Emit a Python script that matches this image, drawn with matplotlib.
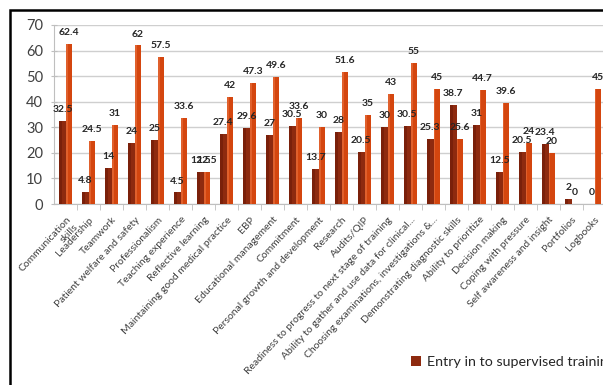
import matplotlib
matplotlib.use("Agg")
import matplotlib.pyplot as plt
from matplotlib.patches import Rectangle
import numpy as np

categories = [
    "Communication\nskills", "Leadership", "Teamwork", "Patient welfare and safety",
    "Professionalism", "Teaching experience", "Reflective learning",
    "Maintaining good medical practice", "EBP", "Educational management",
    "Commitment", "Personal growth and development", "Research", "Audits/QIP",
    "Readiness to progress to next stage of training",
    "Ability to gather and use data for clinical...",
    "Choosing examinations, investigations &...",
    "Demonstrating diagnostic skills", "Ability to prioritize", "Decision making",
    "Coping with pressure", "Self awareness and insight", "Portfolios", "Logbooks",
]
entry_values = [32.5, 4.8, 14, 24, 25, 4.5, 12.5, 27.4, 29.6, 27, 30.5, 13.7, 28,
                20.5, 30, 30.5, 25.3, 38.7, 31, 12.5, 20.5, 23.4, 2, 0]
second_values = [62.4, 24.5, 31, 62, 57.5, 33.6, 12.5, 42, 47.3, 49.6, 33.6, 30, 51.6,
                 35, 43, 55, 45, 25.6, 44.7, 39.6, 24, 20, 0, 45]
series_labels = ["Entry in to supervised training", "Second series"]
yticks = [0, 10, 20, 30, 40, 50, 60, 70]

plt.rcParams['font.family'] = ['Lato', 'DejaVu Sans']

W, H = 603, 385
fig = plt.figure(figsize=(W / 100, H / 100), dpi=100)
ax = fig.add_axes([54.2 / W, (H - 204) / H, (606 - 54.2) / W, (204 - 25) / H])

x = np.arange(len(categories))
bw = 0.28
dark = "#8E2A0F"
orange = "#D4460F"
b1 = ax.bar(x - bw / 2, entry_values, bw, color=dark, label=series_labels[0], zorder=3)
b2 = ax.bar(x + bw / 2, second_values, bw, color=orange, label=series_labels[1], zorder=3)
# subtle shading strips to mimic gradient
ax.bar(x - bw / 2 - bw * 0.3, entry_values, bw * 0.4, color="#7A200A", zorder=3.5)
ax.bar(x + bw / 2 - bw * 0.35, second_values, bw * 0.3, color="#E0602C", zorder=3.5)

for bars, vals in ((b1, entry_values), (b2, second_values)):
    for rect, v in zip(bars, vals):
        ax.annotate(f"{v:g}", (rect.get_x() + rect.get_width() / 2, v),
                    xytext=(0, 5), textcoords="offset points", ha="center", va="bottom",
                    fontsize=7.5, fontweight="bold", color="#262626", zorder=5)

ax.set_xlim(-0.5, len(categories) - 0.5)
ax.set_ylim(0, 70)
ax.set_yticks(yticks)
ax.set_yticklabels([str(t) for t in yticks], fontsize=10.5, color="#404040")
ax.yaxis.grid(True, color="#CFCFCF", lw=1, zorder=0)
ax.set_axisbelow(True)
ax.set_xticks(x)
ax.set_xticklabels(categories, rotation=47, ha="right", rotation_mode="anchor",
                   fontsize=7.5, color="#404040")
ax.set_xticks(np.arange(len(categories)) + 0.5, minor=True)
ax.tick_params(axis="x", which="major", length=0, pad=8)
ax.tick_params(axis="x", which="minor", length=4, color="#BFBFBF")
ax.tick_params(axis="y", length=4, color="#BFBFBF", direction="inout", pad=6)
for s in ("top", "right"):
    ax.spines[s].set_visible(False)
for s in ("left", "bottom"):
    ax.spines[s].set_color("#BFBFBF")

leg = ax.legend(handles=[b1], labels=[series_labels[0]], loc="upper left",
                bbox_to_anchor=(411 / W, 1 - 356 / H), bbox_transform=fig.transFigure,
                frameon=False, fontsize=10.3, handlelength=0.7, handleheight=0.7,
                handletextpad=0.4, borderpad=0, borderaxespad=0)
for t in leg.get_texts():
    t.set_color("#262626")

fig.add_artist(Rectangle((10 / W, -0.1), 1.2, 1 - 10 / H + 0.1, transform=fig.transFigure,
                         fill=False, edgecolor="black", lw=1.8))

fig.savefig("out.png", dpi=100)
